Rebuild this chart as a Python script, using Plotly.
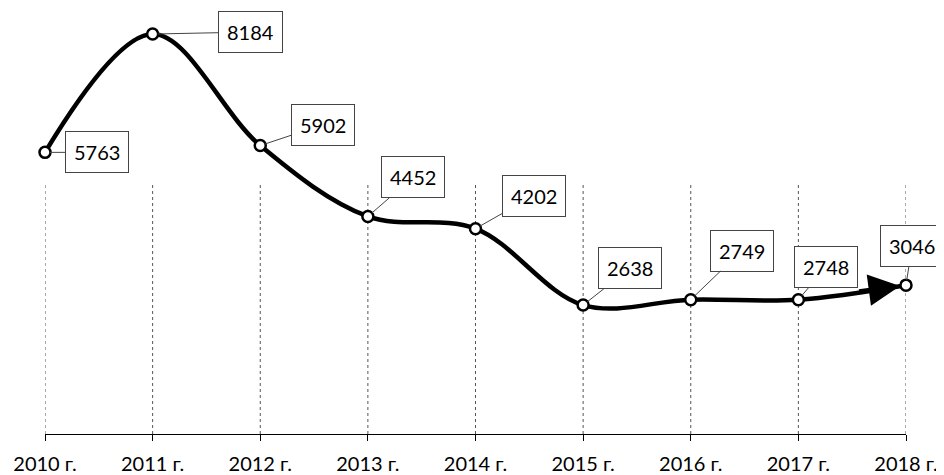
import plotly.graph_objects as go

years = ["2010 г.", "2011 г.", "2012 г.", "2013 г.", "2014 г.", "2015 г.", "2016 г.", "2017 г.", "2018 г."]
values = [5763, 8184, 5902, 4452, 4202, 2638, 2749, 2748, 3046]
# label box offsets (pixels) relative to each point
label_dx = [52, 98, 63, 45, 58, 47, 51, 28, 6]
label_dy = [0, -2, -21, -39, -33, -37, -49, -33, -39]
grid_top = 5150

xs = list(range(len(years)))

fig = go.Figure()

# vertical dotted gridlines
for i in xs:
    fig.add_shape(type="line", xref="x", yref="y", x0=i, x1=i, y0=0, y1=grid_top,
                  line=dict(color="#555555", width=1, dash="dot"), layer="below")

fig.add_trace(go.Scatter(
    x=xs, y=values, mode="lines+markers",
    line=dict(color="black", width=4.5, shape="spline", smoothing=1.0),
    marker=dict(size=11, color="white", line=dict(color="black", width=2.5)),
    cliponaxis=False, hoverinfo="skip", showlegend=False,
))

annotations = []
# arrowhead on the last segment
annotations.append(dict(
    x=xs[-1], y=values[-1], ax=xs[-2] + 0.55, ay=values[-2] + (values[-1] - values[-2]) * 0.55,
    xref="x", yref="y", axref="x", ayref="y", text="", showarrow=True,
    arrowhead=2, arrowsize=1.4, arrowwidth=4.5, arrowcolor="black", standoff=6,
))
for i, v in enumerate(values):
    annotations.append(dict(
        x=xs[i], y=v, xref="x", yref="y", text=str(v), showarrow=True,
        ax=label_dx[i], ay=label_dy[i], arrowhead=0, arrowwidth=1, arrowcolor="#444444",
        standoff=5, bgcolor="white", bordercolor="#444444", borderwidth=1, borderpad=8,
        font=dict(family="Lato", size=20, color="black"),
    ))

fig.update_layout(
    width=944, height=475,
    margin=dict(l=37, r=46, t=2, b=49),
    paper_bgcolor="white", plot_bgcolor="white",
    annotations=annotations,
    xaxis=dict(
        range=[0, 8], tickvals=xs, ticktext=years, showgrid=False, zeroline=False,
        showline=True, linecolor="black", linewidth=1, automargin=False,
        ticks="outside", ticklen=6, tickcolor="black",
        tickfont=dict(family="Lato", size=20, color="black"),
        ticklabelstandoff=6,
    ),
    yaxis=dict(range=[0, 8676], visible=False, showgrid=False, zeroline=False, automargin=False),
)

fig.write_html("out.html")
